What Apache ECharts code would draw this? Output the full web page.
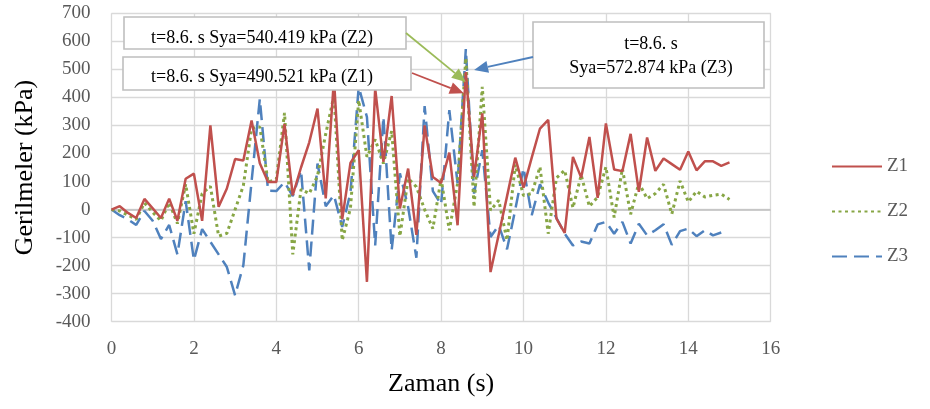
<!DOCTYPE html>
<html>
<head>
<meta charset="utf-8">
<script src="https://cdn.jsdelivr.net/npm/echarts@6/dist/echarts.min.js"></script>
<style>
  html, body { margin: 0; padding: 0; background: #fff; }
  #chart { width: 930px; height: 409px; }
</style>
</head>
<body>
<div id="chart"></div>
<script>
// zaman (s)
var time = [0, 0.2, 0.4, 0.6, 0.8, 1, 1.2, 1.4, 1.6, 1.8, 2, 2.2, 2.4, 2.6, 2.8, 3, 3.2, 3.4, 3.6, 3.8,
  4, 4.2, 4.4, 4.6, 4.8, 5, 5.2, 5.4, 5.6, 5.8, 6, 6.2, 6.4, 6.6, 6.8, 7, 7.2, 7.4, 7.6, 7.8,
  8, 8.2, 8.4, 8.6, 8.8, 9, 9.2, 9.4, 9.6, 9.8, 10, 10.2, 10.4, 10.6, 10.8, 11, 11.2, 11.4, 11.6, 11.8,
  12, 12.2, 12.4, 12.6, 12.8, 13, 13.2, 13.4, 13.6, 13.8, 14, 14.2, 14.4, 14.6, 14.8, 15];

// gerilmeler (kPa)
var z1 = [0, 12, -12, -30, 38, 4, -30, 39, -40, 110, 128, -40, 300, 10, 75, 180, 175, 318, 165, 98,
  98, 305, 51, 150, 240, 360, 40, 465, -35, 166, 212, -258, 432, 170, 405, 4, 146, -90, 300, 116,
  95, 203, -56, 490.521, 116, 343, -223, -88, 47, 185, 78, 185, 289, 320, -32, -83, 188, 114, 259, 42,
  307, 143, 137, 270, 63, 257, 138, 182, 162, 142, 207, 140, 172, 172, 156, 168];
var z2 = [0, -5, -20, -35, 24, -10, -40, 25, -50, 90, -86, 57, 83, -95, -85, 0, 85, 289, 295, 98,
  108, 345, -160, 72, 57, 120, 270, 408, -110, 5, 390, 188, 250, 164, 280, -95, 111, 81, 0, -68,
  110, -74, 93, 540.419, 9, 438, -3, 33, -110, 160, 50, 57, 152, -86, 113, 140, 6, 123, 11, 45,
  152, -28, 146, -17, 95, 39, 57, 90, -16, 102, 27, 65, 45, 51, 55, 36];
var z3 = [0, -20, -35, -55, -5, -40, -105, -55, -160, 30, -180, -70, -115, -160, -205, -306, -199, 100, 395, 67,
  66, 98, 48, 140, -217, 164, 12, 51, -62, 60, 438, 330, -128, 331, -145, 129, 9, -172, 369, 66,
  18, 355, 93, 572.874, 57, 212, -98, -56, -142, 0, 148, -20, 90, 25, -30, -86, -128, -114, -121, -53,
  -44, -86, -44, -121, -51, -92, -74, -52, -126, -77, -68, -95, -74, -92, -82, null];

var seriesNames = ['Z1', 'Z2', 'Z3'];
var colors = ['#C0504D', '#87A645', '#4F81BD'];

function pairs(vals) {
  return time.map(function (t, i) { return [t, vals[i]]; });
}

var serif = '"Liberation Serif", "Times New Roman", serif';
var chart = echarts.init(document.getElementById('chart'));

var option = {
  animation: false,
  grid: { left: 111.5, right: 159.3, top: 13.3, bottom: 87.3, outerBoundsMode: 'none' },
  legend: {
    orient: 'vertical',
    left: 826,
    top: 152,
    itemWidth: 50,
    itemHeight: 14,
    itemGap: 26,
    itemStyle: { opacity: 0 },
    textStyle: { fontFamily: serif, fontSize: 19, color: '#595959' },
    data: seriesNames
  },
  xAxis: {
    type: 'value',
    min: 0, max: 16, interval: 2,
    name: 'Zaman (s)',
    nameLocation: 'middle',
    nameGap: 49,
    nameTextStyle: { fontFamily: serif, fontSize: 26, color: '#000' },
    axisLine: { onZero: false, show: false },
    axisTick: { show: false },
    axisLabel: { fontFamily: serif, fontSize: 19, color: '#595959', margin: 18 },
    splitLine: { show: true, lineStyle: { color: '#d9d9d9', width: 1.3 } }
  },
  yAxis: {
    type: 'value',
    min: -400, max: 700, interval: 100,
    name: 'Gerilmeler (kPa)',
    nameLocation: 'middle',
    nameGap: 73,
    nameTextStyle: { fontFamily: serif, fontSize: 26, color: '#000' },
    axisLine: { show: false },
    axisTick: { show: false },
    axisLabel: { fontFamily: serif, fontSize: 19, color: '#595959', margin: 21 },
    splitLine: { show: true, lineStyle: { color: '#d9d9d9', width: 1.3 } }
  },
  series: [
    {
      name: 'Z1', type: 'line', data: pairs(z1), symbol: 'none', z: 4,
      lineStyle: { color: colors[0], width: 2.5 },
      itemStyle: { color: colors[0] },
      markLine: {
        silent: true, symbol: 'none', label: { show: false },
        lineStyle: { color: '#bfbfbf', width: 1.6, type: 'solid' },
        data: [{ yAxis: 0 }],
        z: 1
      }
    },
    {
      name: 'Z2', type: 'line', data: pairs(z2), symbol: 'none', z: 3,
      lineStyle: { color: colors[1], width: 3, type: [3, 3.5] },
      itemStyle: { color: colors[1] }
    },
    {
      name: 'Z3', type: 'line', data: pairs(z3), symbol: 'none', z: 2,
      lineStyle: { color: colors[2], width: 2.5, type: [15, 7] },
      itemStyle: { color: colors[2] }
    }
  ]
};
chart.setOption(option);

// annotation boxes and arrows
function arrow(x1, y1, x2, y2, color) {
  var dx = x2 - x1, dy = y2 - y1;
  var len = Math.sqrt(dx * dx + dy * dy);
  var ux = dx / len, uy = dy / len;
  var bx = x2 - ux * 14, by = y2 - uy * 14;
  var nx = -uy * 6, ny = ux * 6;
  return [
    { type: 'line', z: 20, shape: { x1: x1, y1: y1, x2: bx, y2: by }, style: { stroke: color, lineWidth: 1.8 } },
    { type: 'polygon', z: 20, shape: { points: [[x2, y2], [bx + nx, by + ny], [bx - nx, by - ny]] }, style: { fill: color } }
  ];
}

function box(x, y, w, h, lines) {
  var els = [{
    type: 'rect', z: 10,
    shape: { x: x, y: y, width: w, height: h },
    style: { fill: '#fff', stroke: '#bfbfbf', lineWidth: 1.6 }
  }];
  lines.forEach(function (ln) {
    els.push({
      type: 'text', z: 11,
      style: { x: ln[0], y: ln[1], text: ln[2], fontFamily: serif, fontSize: 18, fill: '#000',
               align: 'center', verticalAlign: 'middle' }
    });
  });
  return els;
}

var tipZ2 = chart.convertToPixel({ gridIndex: 0 }, [8.6, 455]);
var tipZ1 = chart.convertToPixel({ gridIndex: 0 }, [8.55, 415]);
var tipZ3 = chart.convertToPixel({ gridIndex: 0 }, [8.8, 498]);

var elements = []
  .concat(box(124, 17, 282, 32, [[262, 38, 't=8.6. s Sya=540.419 kPa (Z2)']]))
  .concat(box(123, 57, 288, 33, [[262, 77, 't=8.6. s Sya=490.521 kPa (Z1)']]))
  .concat(box(533, 22, 231, 66, [[651, 44, 't=8.6. s'], [651, 68, 'Sya=572.874 kPa (Z3)']]))
  .concat(arrow(406, 33, tipZ2[0], tipZ2[1], '#9BBB59'))
  .concat(arrow(412, 73, tipZ1[0], tipZ1[1], colors[0]))
  .concat(arrow(533, 57, tipZ3[0], tipZ3[1], colors[2]));

chart.setOption({ graphic: { elements: elements } });
</script>
</body>
</html>
